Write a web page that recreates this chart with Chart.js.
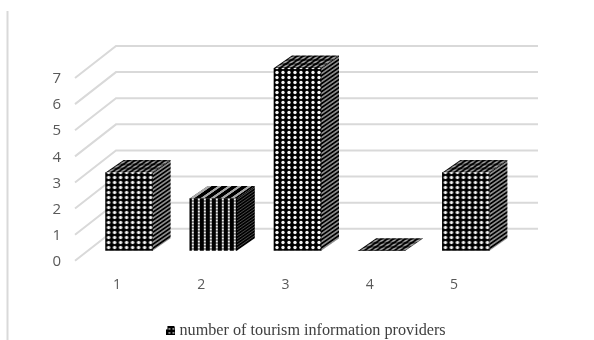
<!DOCTYPE html>
<html>
<head>
<meta charset="utf-8">
<title>Tourism information providers</title>
<script src="https://cdn.jsdelivr.net/npm/chart.js@4/dist/chart.umd.min.js"></script>
<style>
  html, body { margin: 0; padding: 0; background: #fff; }
  canvas { display: block; }
</style>
</head>
<body>
<canvas id="providersChart" width="594" height="340"></canvas>
<script>
const categories = ['1', '2', '3', '4', '5'];
const providerCounts = [3, 2, 7, 0, 3];
const seriesLabel = 'number of tourism information providers';

const GRID_COLOR = '#d9d9d9';
// fake 3D: how far the bars and the floor recede
const BAR_DEPTH = { x: 18, y: 12.5 };
const FLOOR_FRONT = { x: 75, y: 10 };
const FLOOR_BACK = { x: 116, y: -22 };
const GRID_RIGHT = 538;
const LEGEND_SHIFT = { x: 54, y: 9 };

function tile(w, h, paint) {
  const c = document.createElement('canvas');
  c.width = w;
  c.height = h;
  const g = c.getContext('2d');
  g.fillStyle = '#000';
  g.fillRect(0, 0, w, h);
  paint(g);
  return c;
}

function dots(color, r) {
  return (g) => {
    g.fillStyle = color;
    g.beginPath();
    g.arc(g.canvas.width / 2, g.canvas.height / 2, r, 0, Math.PI * 2);
    g.fill();
  };
}

const scratch = document.createElement('canvas').getContext('2d');
const frontTile = tile(6, 5, dots('#f4f4f4', 1.7));
const narrowFrontTile = tile(6, 3, (g) => {
  g.fillStyle = '#8a8a8a';
  g.fillRect(2, 0, 2, 3);
  g.fillStyle = '#eee';
  g.fillRect(2, 1, 2, 1);
});
const topTile = tile(6, 4, dots('#a0a0a0', 1.7));
const sideTile = tile(6, 4, (g) => {
  g.fillStyle = '#8a8a8a';
  g.fillRect(0, 1, 6, 2);
});
const narrowSideTile = tile(6, 3, (g) => {
  g.fillStyle = '#4a4a4a';
  g.fillRect(0, 1, 6, 1);
});
const stripedTopTile = tile(10, 4, (g) => {
  g.fillStyle = '#a8a8a8';
  g.fillRect(0, 0, 4, 4);
});

function patternFor(source, a, b, c, d, e, f) {
  const p = scratch.createPattern(source, 'repeat');
  p.setTransform(new DOMMatrix([a, b, c, d, e, f]));
  return p;
}

const extrudedBars = {
  id: 'extrudedBars',
  afterLayout(chart) {
    // the key sits centred under the whole figure, not the plot
    chart.legend.left += LEGEND_SHIFT.x;
    chart.legend.right += LEGEND_SHIFT.x;
    chart.legend.top += LEGEND_SHIFT.y;
    chart.legend.bottom += LEGEND_SHIFT.y;
  },
  beforeDatasetsDraw(chart) {
    const { ctx, scales: { y } } = chart;
    // floor-to-wall grid lines, one per tick
    ctx.save();
    ctx.strokeStyle = GRID_COLOR;
    ctx.lineWidth = 2;
    y.ticks.forEach((t) => {
      const py = y.getPixelForValue(t.value);
      ctx.beginPath();
      ctx.moveTo(FLOOR_FRONT.x, py + FLOOR_FRONT.y);
      ctx.lineTo(FLOOR_BACK.x, py + FLOOR_BACK.y);
      ctx.lineTo(GRID_RIGHT, py + FLOOR_BACK.y);
      ctx.stroke();
    });
    // frame rule down the left edge
    ctx.beginPath();
    ctx.moveTo(7.5, 11);
    ctx.lineTo(7.5, 340);
    ctx.stroke();

    const slopeY = -BAR_DEPTH.y / BAR_DEPTH.x;
    const slopeX = -BAR_DEPTH.x / BAR_DEPTH.y;
    chart.getDatasetMeta(0).data.forEach((bar, i) => {
      const left = bar.x - bar.width / 2;
      const right = bar.x + bar.width / 2;
      const narrow = i === 1;

      ctx.fillStyle = patternFor(narrow ? narrowSideTile : sideTile, 1, slopeY, 0, 1, right, bar.y);
      ctx.beginPath();
      ctx.moveTo(right, bar.y);
      ctx.lineTo(right + BAR_DEPTH.x, bar.y - BAR_DEPTH.y);
      ctx.lineTo(right + BAR_DEPTH.x, bar.base - BAR_DEPTH.y);
      ctx.lineTo(right, bar.base);
      ctx.closePath();
      ctx.fill();

      ctx.fillStyle = patternFor(narrow ? stripedTopTile : topTile, 1, 0, slopeX, 1, left, bar.y);
      ctx.beginPath();
      ctx.moveTo(left, bar.y);
      ctx.lineTo(left + BAR_DEPTH.x, bar.y - BAR_DEPTH.y);
      ctx.lineTo(right + BAR_DEPTH.x, bar.y - BAR_DEPTH.y);
      ctx.lineTo(right, bar.y);
      ctx.closePath();
      ctx.fill();
    });
    ctx.restore();
  },
};

function frontFill(context) {
  const x = context.chart.scales.x;
  const left = x.getPixelForValue(context.dataIndex) - 23.5;
  const source = context.dataIndex === 1 ? narrowFrontTile : frontTile;
  return patternFor(source, 1, 0, 0, 1, left, 0);
}

// little key swatch for the legend
const legendSwatch = tile(9, 9, (g) => {
  g.fillStyle = '#fff';
  g.fillRect(0, 0, 1, 3);
  g.fillRect(2, 2, 2, 1);
  g.fillRect(6, 2, 2, 1);
  g.fillRect(2, 6, 2, 1);
  g.fillRect(6, 6, 2, 1);
  g.fillRect(8, 0, 1, 1);
});

new Chart(document.getElementById('providersChart'), {
  type: 'bar',
  data: {
    labels: categories,
    datasets: [{
      label: seriesLabel,
      data: providerCounts,
      backgroundColor: frontFill,
      barThickness: 47,
    }],
  },
  plugins: [extrudedBars],
  options: {
    responsive: false,
    animation: false,
    layout: { padding: { top: 68, right: 86, left: 0, bottom: 0 } },
    plugins: {
      tooltip: { enabled: false },
      legend: {
        display: true,
        position: 'bottom',
        labels: {
          usePointStyle: true,
          pointStyle: legendSwatch,
          pointStyleWidth: 1,
          color: '#404040',
          padding: 3,
          font: { family: '"Liberation Serif", serif', size: 16.2 },
        },
      },
    },
    scales: {
      x: {
        afterFit: (scale) => { scale.height = 60; },
        grid: { display: false },
        border: { display: false },
        ticks: {
          labelOffset: -12,
          padding: 18,
          color: '#595959',
          font: { family: '"Open Sans", sans-serif', size: 14 },
        },
      },
      y: {
        min: 0,
        max: 7,
        afterFit: (scale) => { scale.width = 87; },
        grid: { display: false },
        border: { display: false },
        ticks: {
          stepSize: 1,
          padding: 18,
          labelOffset: 11,
          color: '#595959',
          font: { family: '"Open Sans", sans-serif', size: 15 },
        },
      },
    },
  },
});
</script>
</body>
</html>
